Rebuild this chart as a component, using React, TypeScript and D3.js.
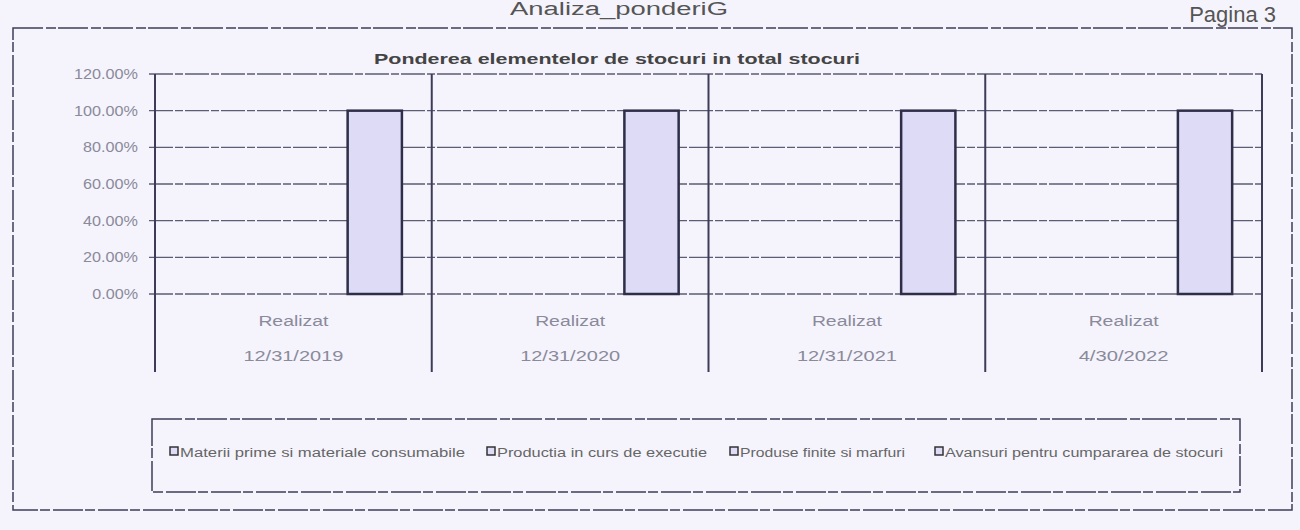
import React from "react";
import { scaleLinear, scaleBand, format } from "d3";

const categories = ["12/31/2019", "12/31/2020", "12/31/2021", "4/30/2022"];
const groupLabel = "Realizat";
const seriesNames = [
  "Materii prime si materiale consumabile",
  "Productia in curs de executie",
  "Produse finite si marfuri",
  "Avansuri pentru cumpararea de stocuri",
];
// share of each element in total stock, per period
const materiiPrime = [0, 0, 0, 0];
const productie = [0, 0, 0, 0];
const produseFinite = [0, 0, 0, 0];
const avansuri = [1, 1, 1, 1];
const yTicks = [0, 0.2, 0.4, 0.6, 0.8, 1, 1.2];

const seriesValues = [materiiPrime, productie, produseFinite, avansuri];

const App = () => {
  const width = 1300;
  const height = 530;
  const plot = { left: 155, right: 1262, top: 74, bottom: 294 };
  const ink = "#3c3c58";
  const font = "Liberation Sans, Arial, sans-serif";
  // the scan is stretched sideways, so texts get widened a bit
  const stretch = 1.38;

  const xScale = scaleBand()
    .domain(categories)
    .range([plot.left, plot.right]);

  const inner = scaleBand()
    .domain(seriesNames)
    .range([0, xScale.bandwidth()])
    .paddingInner(0)
    .paddingOuter(0.55);

  const yScale = scaleLinear().domain([0, 1.2]).range([plot.bottom, plot.top]);
  const pct = format(".2%");

  const gridLines = yTicks.map((t) => (
    <g key={t}>
      <line
        x1={plot.left - 6}
        x2={plot.right}
        y1={yScale(t)}
        y2={yScale(t)}
        stroke="#5c5c74"
        strokeWidth={1.3}
        strokeDasharray="24 2 8 2"
      />
      <text
        x={plot.left - 17}
        y={yScale(t) + 5}
        textAnchor="end"
        fontSize={14}
        fill="#8a8a9a"
        fontFamily={font}
        textLength={pct(t).length * 7.8 * stretch * 0.85}
        lengthAdjust="spacingAndGlyphs"
      >
        {pct(t)}
      </text>
    </g>
  ));

  const dividers = [...categories.map((c) => xScale(c)), plot.right].map((x, i) => (
    <line
      key={i}
      x1={x}
      x2={x}
      y1={plot.top}
      y2={372}
      stroke={ink}
      strokeWidth={2}
    />
  ));

  const bars = categories.map((c, ci) =>
    seriesNames.map((s, si) => {
      const v = seriesValues[si][ci];
      if (!v) return null;
      return (
        <rect
          key={c + s}
          x={xScale(c) + inner(s)}
          y={yScale(v)}
          width={inner.bandwidth()}
          height={yScale(0) - yScale(v)}
          fill="#dddbf6"
          stroke="#2e2e48"
          strokeWidth={2.5}
        />
      );
    })
  );

  const catLabels = categories.map((c) => (
    <g key={c} fontFamily={font} fontSize={14} fill="#8a8a9a" textAnchor="middle">
      <text
        x={xScale(c) + xScale.bandwidth() / 2}
        y={326}
        textLength={70}
        lengthAdjust="spacingAndGlyphs"
      >
        {groupLabel}
      </text>
      <text
        x={xScale(c) + xScale.bandwidth() / 2}
        y={361}
        textLength={c.length * 10}
        lengthAdjust="spacingAndGlyphs"
      >
        {c}
      </text>
    </g>
  ));

  const legendX = [170, 487, 730, 935];
  const legendW = [285, 210, 165, 278];
  const legend = seriesNames.map((s, i) => (
    <g key={s}>
      <rect
        x={legendX[i]}
        y={447}
        width={8}
        height={8}
        fill="#dddbf6"
        stroke="#333"
        strokeWidth={1.5}
      />
      <text
        x={legendX[i] + 10}
        y={457}
        fontSize={12.5}
        fill="#666"
        fontFamily={font}
        textLength={legendW[i]}
        lengthAdjust="spacingAndGlyphs"
      >
        {s}
      </text>
    </g>
  ));

  return (
    <svg
      width={width}
      height={height}
      viewBox={`0 0 ${width} ${height}`}
      style={{ position: "absolute", left: 0, top: 0, background: "#f5f4fd" }}
    >
      <rect x={0} y={0} width={width} height={height} fill="#f5f4fd" />
      <text
        x={619}
        y={15}
        textAnchor="middle"
        fontSize={18}
        fill="#555"
        fontFamily={font}
        textLength={218}
        lengthAdjust="spacingAndGlyphs"
      >
        Analiza_ponderiG
      </text>
      <text x={1276} y={22} textAnchor="end" fontSize={22} fill="#555" fontFamily={font}>
        Pagina 3
      </text>
      <rect
        x={13}
        y={28}
        width={1279}
        height={482}
        fill="none"
        stroke={ink}
        strokeWidth={1.5}
        strokeDasharray="30 3 10 2"
      />
      <text
        x={617}
        y={64}
        textAnchor="middle"
        fontSize={15}
        fontWeight="bold"
        fill="#444"
        fontFamily={font}
        textLength={486}
        lengthAdjust="spacingAndGlyphs"
      >
        Ponderea elementelor de stocuri in total stocuri
      </text>
      {gridLines}
      {dividers}
      {bars}
      {catLabels}
      <rect
        x={152}
        y={419}
        width={1088}
        height={73}
        fill="none"
        stroke={ink}
        strokeWidth={1.5}
        strokeDasharray="30 3 10 2"
      />
      {legend}
    </svg>
  );
};

export default App;
